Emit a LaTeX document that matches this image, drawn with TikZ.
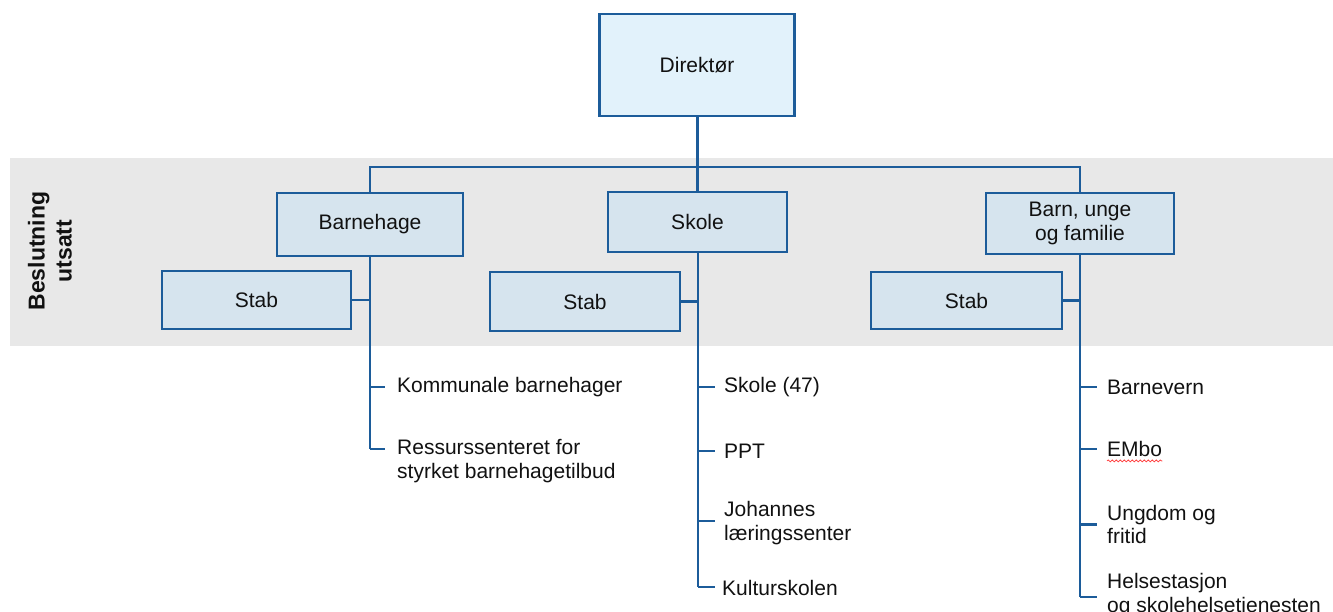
\documentclass[tikz,border=0pt]{standalone}
\usepackage{fontspec}
\setmainfont{Liberation Sans}
\usetikzlibrary{decorations.pathmorphing}
\definecolor{lineblue}{HTML}{1C5C9A}
\definecolor{boxfill}{HTML}{D6E4EE}
\definecolor{topfill}{HTML}{E2F2FB}
\definecolor{band}{HTML}{E8E8E8}
\definecolor{txt}{HTML}{111111}
\tikzset{
  orgbox/.style={draw=lineblue, line width=2.4pt, fill=boxfill, minimum width=#1, inner sep=0pt,
    font=\fontsize{21}{23.5}\selectfont, text=txt, align=center},
  item/.style={anchor=west, inner sep=0pt, font=\fontsize{21}{23.5}\selectfont, text=txt, align=left},
  conn/.style={draw=lineblue, line width=2.2pt}
}
\begin{document}
\begin{tikzpicture}[x=1pt,y=-1pt]
\useasboundingbox (0,0) rectangle (1333,612);
\fill[band] (10,158) rectangle (1333,346);
\node[rotate=90, align=center, font=\fontsize{23}{27}\selectfont\bfseries, text=txt] (besl) at (50,251) {Beslutning\\utsatt};
% boxes
\node[orgbox=195pt, minimum height=102pt, fill=topfill] (dir) at (697,65) {Direktør};
\node[orgbox=186pt, minimum height=63pt] (bh) at (370,224.5) {Barnehage};
\node[orgbox=179pt, minimum height=60pt] (sk) at (697.5,222) {Skole};
\node[orgbox=188pt, minimum height=61pt] (bu) at (1080,223.5) {Barn, unge\\og familie};
\node[orgbox=189pt, minimum height=58pt] (stL) at (256.5,300) {Stab};
\node[orgbox=190pt, minimum height=59pt] (stM) at (585,301.5) {Stab};
\node[orgbox=191pt, minimum height=57pt] (stR) at (966.5,300.5) {Stab};
% items
\node[item] (kb) at (397,387) {Kommunale barnehager};
\node[item] (rs) at (397,461) {Ressurssenteret for\\styrket barnehagetilbud};
\node[item] (s47) at (724,387) {Skole (47)};
\node[item] (ppt) at (724,451) {PPT};
\node[item] (jl) at (724,523) {Johannes\\læringssenter};
\node[item] (ks) at (722,588) {Kulturskolen};
\node[item] (bv) at (1107,387) {Barnevern};
\node[item] (em) at (1107,449) {EMbo};
\node[item] (uf) at (1107,524.5) {Ungdom og\\fritid};
\node[item] (hs) at (1107,595) {Helsestasjon\\og skolehelsetjenesten};
\draw[red!75!white, line width=0.8pt, decorate, decoration={snake, amplitude=0.9pt, segment length=4pt}] ([yshift=-4pt]em.south west) -- ([yshift=-4pt]em.south east);
% coordinates
\coordinate (hL) at (370,167);
\coordinate (hR) at (1080,167);
\coordinate (eL) at (370,449);
\coordinate (eM) at (698,587);
\coordinate (eR) at (1080,597);
% connectors
\draw[conn] (dir.south -| sk.north) -- (sk.north);
\draw[conn] (bh.north) -- (hL) -- (hR) -- (bu.north);
\draw[conn] (bh.south) -- (eL);
\draw[conn] (sk.south -| eM) -- (eM);
\draw[conn] (bu.south) -- (eR);
\draw[conn] (stL.east) -- (stL.east -| hL);
\draw[conn] (stM.east) -- (stM.east -| eM);
\draw[conn] (stR.east) -- (stR.east -| eR);
% ticks
\draw[conn] (kb.west -| eL) -- ([xshift=-12pt]kb.west);
\draw[conn] (eL) -- ([xshift=-12pt]rs.west |- eL);
\draw[conn] (s47.west -| eM) -- ([xshift=-9pt]s47.west);
\draw[conn] (ppt.west -| eM) -- ([xshift=-9pt]ppt.west);
\draw[conn] ([yshift=2pt]jl.west -| eM) -- ([xshift=-9pt,yshift=2pt]jl.west);
\draw[conn] (eM) -- ([xshift=-7pt]ks.west |- eM);
\draw[conn] (bv.west -| eR) -- ([xshift=-10pt]bv.west);
\draw[conn] (em.west -| eR) -- ([xshift=-10pt]em.west);
\draw[conn] (uf.west -| eR) -- ([xshift=-10pt]uf.west);
\draw[conn] (eR) -- ([xshift=-10pt]hs.west |- eR);
\end{tikzpicture}
\end{document}
